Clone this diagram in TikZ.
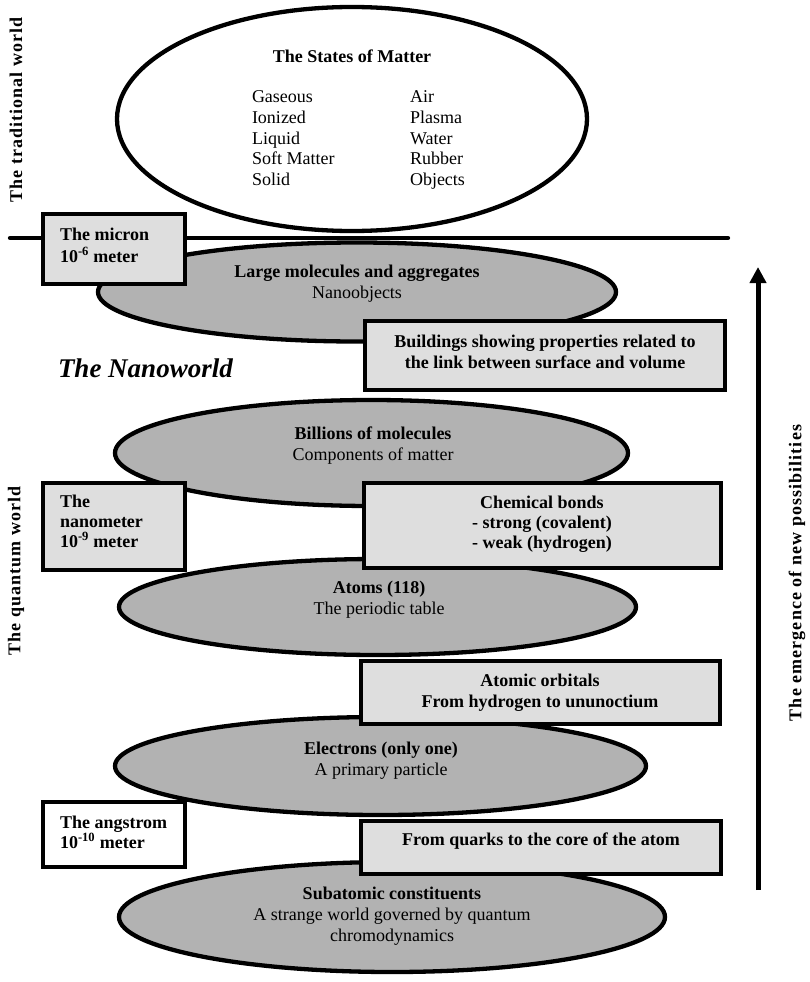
\documentclass[tikz,border=0pt]{standalone}
\usepackage{fontspec}
\setmainfont{Liberation Serif}
\newfontfamily\spacedfont[LetterSpace=6]{Liberation Serif}
\usetikzlibrary{shapes.geometric,arrows.meta}
\definecolor{ellgray}{HTML}{B2B2B2}
\definecolor{boxgray}{HTML}{DEDEDE}
\tikzset{
  ell/.style={ellipse, draw=black, line width=4.3pt, fill=ellgray, inner sep=0pt, outer sep=0pt},
  bx/.style={rectangle, draw=black, line width=4.3pt, fill=boxgray, inner sep=0pt, outer sep=0pt, anchor=north west},
  txt/.style={font=\fontsize{18}{20.7}\selectfont, inner sep=0pt, outer sep=0pt},
  ctxt/.style={txt, align=center, anchor=base},
  ltxt/.style={txt, align=left, anchor=base west},
  side/.style={font=\fontsize{18}{20}\selectfont\spacedfont\bfseries, inner sep=0pt, rotate=90},
  rule/.style={line width=4.3pt, line cap=round},
}
\begin{document}
\begin{tikzpicture}[x=1pt,y=-1pt]
\useasboundingbox (0,0) rectangle (810,982);
% ellipses
\node[ell, fill=white, minimum width=470pt, minimum height=224pt] (states) at (352,119) {};
\node[ell, minimum width=518pt, minimum height=99pt] (large) at (357,292) {};
\node[ell, minimum width=513pt, minimum height=106pt] (billions) at (371.5,453) {};
\node[ell, minimum width=517pt, minimum height=96pt] (atoms) at (377.5,607) {};
\node[ell, minimum width=531pt, minimum height=98pt] (electrons) at (380.5,766) {};
\node[ell, minimum width=546pt, minimum height=110pt] (subatomic) at (392,917) {};
% horizontal rule
\coordinate (ruleL) at (10,238);
\coordinate (ruleR) at (728,238);
\draw[rule] (ruleL) -- (ruleR);
% boxes
\node[bx, minimum width=142pt, minimum height=70pt] (micron) at (43,214) {};
\node[bx, minimum width=360pt, minimum height=69pt] (buildings) at (365,321) {};
\node[bx, minimum width=142pt, minimum height=87pt] (nanometer) at (43,483) {};
\node[bx, minimum width=357pt, minimum height=85pt] (chem) at (364,483) {};
\node[bx, minimum width=359pt, minimum height=63pt] (orbitals) at (361,661) {};
\node[bx, fill=white, minimum width=142pt, minimum height=65pt] (angstrom) at (43,802) {};
\node[bx, minimum width=360pt, minimum height=53pt] (quarks) at (361,821) {};
% arrow
\coordinate (arrowB) at (758,890);
\coordinate (arrowT) at (758,267);
\draw[line width=5pt, -{Triangle[width=16pt,length=16pt]}] (arrowB) -- (arrowT);
% texts (multi-line nodes are anchored on the baseline of their last line)
\node[ctxt, font=\fontsize{18}{20.7}\selectfont\bfseries] (statesT) at (352,63) {The States of Matter};
\node[ltxt] (statesL) at (252,185.5) {Gaseous\\Ionized\\Liquid\\Soft Matter\\Solid};
\node[ltxt] (statesR) at (410,185.5) {Air\\Plasma\\Water\\Rubber\\Objects};
\node[ltxt, font=\fontsize{18}{22}\selectfont\bfseries] (micronT) at (60,262) {The micron\\10\textsuperscript{-6} meter};
\node[ctxt] (largeT) at (357,298.5) {\textbf{Large molecules and aggregates}\\Nanoobjects};
\node[ctxt, font=\fontsize{18}{21}\selectfont\bfseries] (buildingsT) at (545,368) {Buildings showing properties related to\\the link between surface and volume};
\node[txt, anchor=base west, font=\fontsize{27}{30}\selectfont\bfseries\itshape] (nanoworld) at (58,377) {The Nanoworld};
\node[ctxt] (billionsT) at (373,460) {\textbf{Billions of molecules}\\Components of matter};
\node[ltxt, font=\fontsize{18}{20}\selectfont\bfseries] (nanometerT) at (60,547) {The\\nanometer\\10\textsuperscript{-9} meter};
\node[ctxt, font=\fontsize{18}{20}\selectfont\bfseries] (chemT) at (542,548) {Chemical bonds\\- strong (covalent)\\- weak (hydrogen)};
\node[ctxt] (atomsT) at (379,614) {\textbf{Atoms (118)}\\The periodic table};
\node[ctxt, font=\fontsize{18}{21}\selectfont\bfseries] (orbitalsT) at (540,707) {Atomic orbitals\\From hydrogen to ununoctium};
\node[ctxt] (electronsT) at (381,775.5) {\textbf{Electrons (only one)}\\A primary particle};
\node[ltxt, font=\fontsize{18}{20}\selectfont\bfseries] (angstromT) at (60,848) {The angstrom\\10\textsuperscript{-10} meter};
\node[ctxt, font=\fontsize{18}{20.7}\selectfont\bfseries] (quarksT) at (541,845) {From quarks to the core of the atom};
\node[ctxt] (subatomicT) at (392,941) {\textbf{Subatomic constituents}\\A strange world governed by quantum\\chromodynamics};
% side labels
\node[side] (traditional) at (16,110) {The traditional world};
\node[side] (quantum) at (16,571) {The quantum world};
\node[side] (emergence) at (797,573) {The emergence of new possibilities};
\end{tikzpicture}
\end{document}
